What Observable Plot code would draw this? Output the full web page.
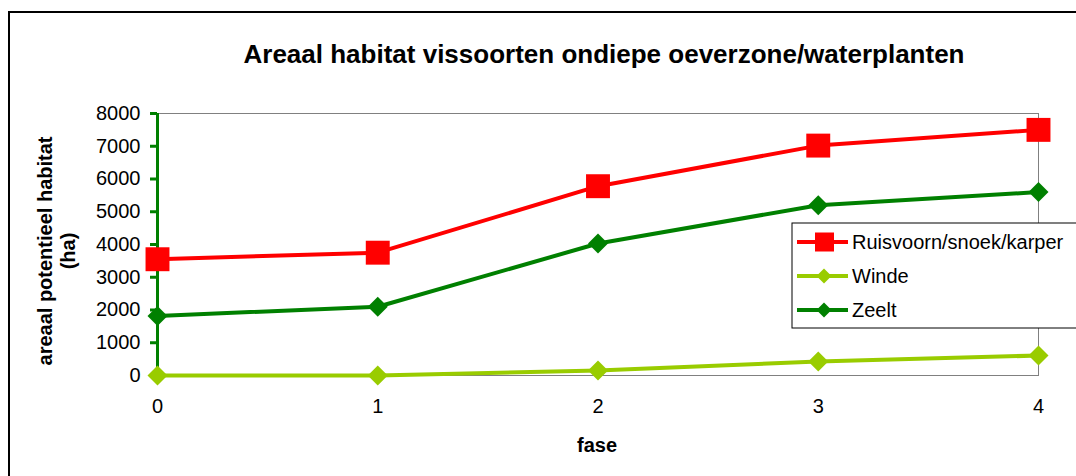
<!DOCTYPE html>
<html>
<head>
<meta charset="utf-8">
<script src="https://cdn.jsdelivr.net/npm/d3@7"></script>
<script src="https://cdn.jsdelivr.net/npm/@observablehq/plot@0.6"></script>
<style>
  html, body { margin: 0; padding: 0; background: #fff; }
  svg { display: block; }
</style>
</head>
<body>
<div id="chart"></div>
<script>
const fase = [0, 1, 2, 3, 4];
const seriesNames = ["Ruisvoorn/snoek/karper", "Winde", "Zeelt"];
const ruisvoorn = [3550, 3750, 5780, 7020, 7500];
const winde = [0, 0, 150, 430, 610];
const zeelt = [1820, 2100, 4030, 5200, 5600];
const yTicks = [0, 1000, 2000, 3000, 4000, 5000, 6000, 7000, 8000];
const xTicks = [0, 1, 2, 3, 4];
const colors = {"Ruisvoorn/snoek/karper": "#ff0000", "Winde": "#99cc00", "Zeelt": "#008000"};
const symbols = {"Ruisvoorn/snoek/karper": "square", "Winde": "diamond2", "Zeelt": "diamond2"};
const radii = {"Ruisvoorn/snoek/karper": 13.5, "Winde": 9, "Zeelt": 9};

const valuesBySeries = [ruisvoorn, winde, zeelt];
const data = [];
seriesNames.forEach((s, i) => fase.forEach((f, j) => data.push({series: s, fase: f, value: valuesBySeries[i][j]})));

const font = "Liberation Sans, Arial, sans-serif";

const marks = [
  Plot.frame({stroke: "#808080", strokeWidth: 1}),
  Plot.axisY({ticks: yTicks, tickSize: 7, tickPadding: 10, stroke: "#008000", strokeWidth: 3, fill: "black", fontSize: 20, label: null, tickFormat: d => String(d)}),
  Plot.axisX({ticks: xTicks, tickSize: 0, tickPadding: 23, fill: "black", fontSize: 20, label: null, tickFormat: d => String(d)}),
  Plot.ruleX([0], {stroke: "#008000", strokeWidth: 3})
];
seriesNames.forEach(s => {
  const d = data.filter(r => r.series === s);
  marks.push(Plot.line(d, {x: "fase", y: "value", stroke: colors[s], strokeWidth: 4}));
  marks.push(Plot.dot(d, {x: "fase", y: "value", fill: colors[s], stroke: "none", symbol: symbols[s], r: radii[s]}));
});

const chart = Plot.plot({
  width: 1076,
  height: 476,
  marginLeft: 157,
  marginRight: 38,
  marginTop: 113,
  marginBottom: 101,
  style: {fontFamily: font, background: "white", overflow: "hidden"},
  x: {domain: [0, 4]},
  y: {domain: [0, 8000]},
  marks
});

const svg = d3.select(chart);
// outer border
svg.append("rect").attr("x", 9).attr("y", 12).attr("width", 1200).attr("height", 600)
  .attr("fill", "none").attr("stroke", "black").attr("stroke-width", 2);
// title
svg.append("text").attr("x", 604).attr("y", 63).attr("text-anchor", "middle")
  .attr("font-family", font).attr("font-weight", "bold").attr("font-size", 26).attr("fill", "black")
  .text("Areaal habitat vissoorten ondiepe oeverzone/waterplanten");
// y label
const yl = svg.append("text").attr("transform", "translate(0,251) rotate(-90)").attr("text-anchor", "middle")
  .attr("font-family", font).attr("font-weight", "bold").attr("font-size", 20).attr("fill", "black");
yl.append("tspan").attr("x", 0).attr("y", 52).text("areaal potentieel habitat");
yl.append("tspan").attr("x", 0).attr("y", 75).text("(ha)");
// x label
svg.append("text").attr("x", 597).attr("y", 452).attr("text-anchor", "middle")
  .attr("font-family", font).attr("font-weight", "bold").attr("font-size", 20).attr("fill", "black")
  .text("fase");
// legend
const lg = svg.append("g").attr("text-anchor", "start");
lg.append("rect").attr("x", 792).attr("y", 223).attr("width", 400).attr("height", 105)
  .attr("fill", "white").attr("stroke", "black").attr("stroke-width", 1);
const rowsY = [242, 276, 310];
seriesNames.forEach((s, i) => {
  const y = rowsY[i];
  lg.append("line").attr("x1", 797).attr("x2", 848).attr("y1", y).attr("y2", y)
    .attr("stroke", colors[s]).attr("stroke-width", 4);
  if (symbols[s] === "square") {
    lg.append("rect").attr("x", 815).attr("y", y - 9.5).attr("width", 19).attr("height", 19).attr("fill", colors[s]);
  } else {
    lg.append("path").attr("d", `M824,${y-7.5}L831.5,${y}L824,${y+7.5}L816.5,${y}Z`).attr("fill", colors[s]);
  }
  lg.append("text").attr("x", 852).attr("y", y + 7).attr("text-anchor", "start").attr("font-family", font).attr("font-size", 20)
    .attr("fill", "black").text(s);
});

document.getElementById("chart").appendChild(chart);
</script>
</body>
</html>
